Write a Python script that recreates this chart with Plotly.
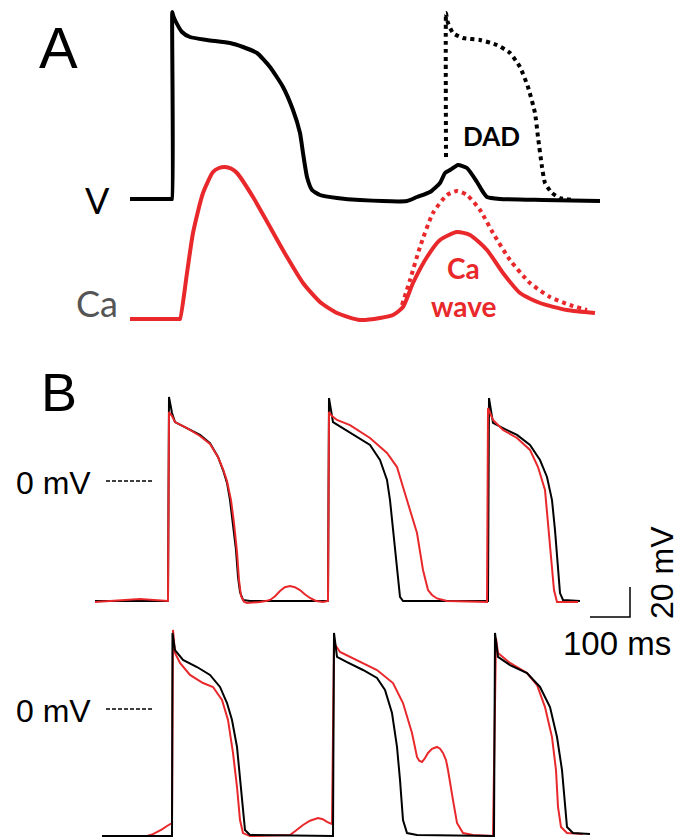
import plotly.graph_objects as go

# ---------------- Panel A (schematic, arbitrary units) ----------------
A_V_T = [0, 41, 42, 42.3, 43, 45, 52, 60, 77, 100, 113, 127, 140, 153, 163, 170, 173, 177, 182, 190, 207, 230,
         277, 287, 300, 310, 315, 320, 328, 337, 347, 353, 357, 370, 413, 470]
A_V_Y = [0, 0, 0, 187, 184, 179, 167, 162, 159, 156, 152, 146, 132, 112, 89, 66, 46, 22, 9, 4, 1, -1,
         -2, 2, 7, 16, 26, 29, 34, 31, 17, 7, 2, 0, -1, -2]

A_AP2_T = [316, 316, 316.5, 318, 323, 333, 350, 367, 380, 390, 398, 405, 408, 412, 415, 422, 430, 443]
A_AP2_Y = [42, 186, 183, 176, 166, 161, 159, 154, 146, 132, 112, 86, 62, 32, 16, 6, 1, -1]

A_CA_T = [0, 49, 50, 57, 63, 73, 83, 89, 95, 101, 107, 123, 140, 157, 173, 190, 207, 230, 250, 263, 273, 283, 297,
          310, 327, 340, 357, 373, 390, 410, 437, 465]
A_CA_Y = [0, 0, 0, 46, 86, 126, 147, 151, 152, 150.5, 146, 122, 92, 62, 36, 17, 6, -1, 1, 4, 12, 36, 62,
          79, 87, 84, 69, 46, 26, 16, 9, 6]

A_CA2_T = [272, 280, 290, 303, 317, 327, 337, 350, 363, 380, 400, 420, 440, 457]
A_CA2_Y = [14, 39, 72, 106, 124, 128, 124, 109, 86, 59, 36, 22, 14, 9]

# ---------------- Panel B (time in ms, membrane potential in mV) ----------------
B1_BLACK_T = [12.5, 195, 197.5, 205, 212.5, 242.5, 275, 300, 320, 332.5, 342.5, 350, 357.5, 365, 370, 375,
              382.5, 400, 595, 597.5, 607.5, 632.5, 667.5, 700, 725, 742.5, 750, 757.5, 767.5, 775,
              782.5, 995, 997.5, 1007.5, 1032.5, 1067.5, 1100, 1125, 1142.5, 1155, 1162.5, 1170,
              1175, 1182.5, 1225]
B1_BLACK_V = [-80, -80, 56, 45.3, 39.3, 35.3, 30.7, 25.3, 16, 7.3, -1.3, -12.7, -28, -46, -64, -74,
              -79.3, -80, -80, 55.3, 39.3, 35.3, 29.3, 24, 14, 0.7, -12.7, -32.7, -59.3, -77.3,
              -80, -80, 55.3, 38.7, 35.3, 30.7, 24, 14, 2.7, -12.7, -32.7, -59.3,
              -74.7, -79.3, -80]

B1_RED_T = [12.5, 125, 195, 197.5, 205, 212.5, 242.5, 275, 300, 320, 332.5, 342.5, 352.5, 360, 367.5,
            372.5, 377.5, 385, 392.5, 410, 425, 440, 450, 462, 475, 487, 500, 512, 525, 537, 550, 565,
            582.5, 595, 597.5, 605, 617.5, 650,
            700, 742.5, 767.5, 782.5, 800, 817.5, 832.5, 845, 855, 867.5, 892.5, 992.5, 995, 1007.5,
            1032.5, 1067.5, 1100, 1120, 1137.5, 1145, 1155, 1160, 1167.5, 1220]
B1_RED_V = [-80.7, -78.7, -80, 46, 43.3, 39.3, 35.3, 30, 24.7, 16, 8, 0, -12.7, -28, -47.3,
            -66, -76.7, -80.5, -81.3, -81.2, -80.7, -80, -79.3, -77, -73.3, -70.8, -70, -70.8, -72.7,
            -75.5, -78, -80, -80.7, -80, 46, 43.3, 40.7, 37.3,
            28.7, 18.7, 9.3, -4, -19.3, -34.7, -59.3, -72.7, -76, -78.3, -80, -80.7, 48.7, 40.7,
            34, 28.7, 20.7, 9.3, -6, -28, -54.7, -72.7, -80.7, -80.7]

B2_BLACK_T = [30, 205, 206.25, 212.5, 232.5, 267.5, 300, 325, 342.5, 355, 367.5, 375, 382.5, 387.5, 400,
              607.5, 610, 617.5, 642.5, 682.5, 717.5, 737.5, 755, 767.5, 775, 782.5, 792.5, 817.5,
              1010, 1012.5, 1020, 1050, 1092.5, 1125, 1150, 1167.5, 1180, 1187.5, 1192.5, 1207.5, 1250]
B2_BLACK_V = [-84.7, -84.7, 50.7, 39.3, 32.7, 28, 22.7, 14.7, 4, -7.3, -25.3, -47.3, -69.3, -80.7, -84,
              -84.7, 50.7, 34.7, 31.3, 26, 20.7, 12.7, -2.7, -25.3, -47.3, -74, -82.7, -84,
              -84.7, 50.7, 34.7, 29.3, 24, 14.7, 1.3, -18.7, -40.7, -65.3, -78.7, -82.7, -83.3]

B2_RED_T = [30, 142.5, 155, 167.5, 180, 192.5, 205, 207.5, 212.5, 225, 250, 282.5, 307.5, 330, 345, 357.5,
            367.5, 375, 382.5, 400, 500, 515, 532.5, 550, 570, 582, 592.5, 605, 610, 625, 667.5, 717.5,
            757.5, 782.5, 805, 817.5, 823, 830, 837, 845, 855, 867.5, 875, 882.5, 890, 895, 907.5,
            917.5, 932.5, 957.5, 1007.5, 1015, 1020,
            1050, 1092.5, 1117.5, 1137.5, 1155, 1165, 1170, 1177.5, 1192.5, 1232.5]
B2_RED_V = [-84.7, -84.7, -83.7, -82, -80.2, -78, -76, 52.7, 37.3, 30.7, 22.7, 17.3, 14.7, 6, -7.3, -29.3,
            -52, -74, -82.7, -84.7, -84, -81, -77.3, -74.5, -72.7, -73.5, -75.3, -76.7, 44, 38, 32.7, 26,
            17.3, 4, -16, -32, -34.5, -35.3, -33, -29.3, -26.5, -25.3, -26.5, -29.3, -34, -40.7, -60.7,
            -76, -82.7, -84, -84.7, 47.3, 37.3,
            30.7, 24, 16, 1.3, -18.7, -40.7, -65.3, -78.7, -82.7, -83.3]

ZERO_MV = 0
ZERO_LINE_T = [40, 157.5]          # extent of the "0 mV" reference dash (ms)
SCALE_T = 100                      # ms
SCALE_V = 20                       # mV
SCALE_ORIGIN_T = 1250              # ms
SCALE_ORIGIN_V = -90.7             # mV (row 1 axis)

RED = "#e8282b"
BLACK = "#000000"

fig = go.Figure()

# Panel A traces
fig.add_trace(go.Scatter(x=A_V_T, y=A_V_Y, mode="lines", xaxis="x", yaxis="y",
                         line=dict(color=BLACK, width=4, shape="spline", smoothing=0.5)))
fig.add_trace(go.Scatter(x=A_AP2_T, y=A_AP2_Y, mode="lines", xaxis="x", yaxis="y",
                         line=dict(color=BLACK, width=4, dash="4px,4px", shape="spline", smoothing=0.5)))
fig.add_trace(go.Scatter(x=A_CA_T, y=A_CA_Y, mode="lines", xaxis="x", yaxis="y2",
                         line=dict(color=RED, width=4, shape="spline", smoothing=0.6)))
fig.add_trace(go.Scatter(x=A_CA2_T, y=A_CA2_Y, mode="lines", xaxis="x", yaxis="y2",
                         line=dict(color=RED, width=4, dash="4px,4px", shape="spline", smoothing=0.6)))

# Panel B traces
fig.add_trace(go.Scatter(x=B1_BLACK_T, y=B1_BLACK_V, mode="lines", xaxis="x2", yaxis="y3",
                         line=dict(color=BLACK, width=2)))
fig.add_trace(go.Scatter(x=B1_RED_T, y=B1_RED_V, mode="lines", xaxis="x2", yaxis="y3",
                         line=dict(color=RED, width=2)))
fig.add_trace(go.Scatter(x=B2_RED_T, y=B2_RED_V, mode="lines", xaxis="x2", yaxis="y4",
                         line=dict(color=RED, width=2)))
fig.add_trace(go.Scatter(x=B2_BLACK_T, y=B2_BLACK_V, mode="lines", xaxis="x2", yaxis="y4",
                         line=dict(color=BLACK, width=2)))

# 0 mV reference dashes
for ya in ["y3", "y4"]:
    fig.add_trace(go.Scatter(x=ZERO_LINE_T, y=[ZERO_MV, ZERO_MV], mode="lines", xaxis="x2", yaxis=ya,
                             line=dict(color=BLACK, width=1.5, dash="4px,2px")))

# scale bar
fig.add_trace(go.Scatter(
    x=[SCALE_ORIGIN_T, SCALE_ORIGIN_T + SCALE_T, SCALE_ORIGIN_T + SCALE_T],
    y=[SCALE_ORIGIN_V, SCALE_ORIGIN_V, SCALE_ORIGIN_V + SCALE_V],
    mode="lines", xaxis="x2", yaxis="y3", line=dict(color=BLACK, width=1.5), cliponaxis=False))

W, H = 679, 840


def px(x):
    return x / W


def py(y):
    return 1 - y / H


hidden = dict(visible=False, showgrid=False, zeroline=False, fixedrange=True)
fig.update_layout(
    width=W, height=H, margin=dict(l=0, r=0, t=0, b=0),
    paper_bgcolor="white", plot_bgcolor="rgba(0,0,0,0)", showlegend=False,
    xaxis=dict(domain=[px(120), px(610)], range=[-10, 480], **hidden),
    yaxis=dict(domain=[py(215), py(0)], range=[-16, 199], anchor="x", **hidden),
    yaxis2=dict(domain=[py(330), py(150)], range=[-11, 169], anchor="x", **hidden),
    xaxis2=dict(domain=[px(90), 1], range=[0, 1472.5], anchor="y3", **hidden),
    yaxis3=dict(domain=[py(620), py(385)], range=[-92.67, 64], anchor="x2", **hidden),
    yaxis4=dict(domain=[0, py(620)], range=[-87.33, 59.33], anchor="x2", **hidden),
)

ARIAL = "Liberation Sans, Arial, sans-serif"
CAL = "Lato, Open Sans, sans-serif"


def label(text, x, y, size, color=BLACK, family=ARIAL, angle=0):
    fig.add_annotation(text=text, x=px(x), y=py(y), xref="paper", yref="paper",
                       showarrow=False, xanchor="center", yanchor="middle",
                       textangle=angle, font=dict(size=size, color=color, family=family))


label("A", 58, 47, 58)
label("B", 59, 392, 54)
label("V", 98, 200, 36, family=CAL)
label("Ca", 97, 303, 36, color="#555555", family=CAL)
label("<b>DAD</b>", 491, 136, 26, family=CAL)
label("<b>Ca</b>", 463, 268, 28, color=RED, family=CAL)
label("<b>wave</b>", 463, 306, 28, color=RED, family=CAL)
label("0 mV", 53, 483, 32)
label("0 mV", 53, 711, 32)
label("20 mV", 662, 573, 32, angle=-90)
label("100 ms", 617, 643, 33)

fig.write_html("out.html", config={"displayModeBar": False},
               post_script="document.body.style.margin='0';document.body.style.overflow='hidden';")
